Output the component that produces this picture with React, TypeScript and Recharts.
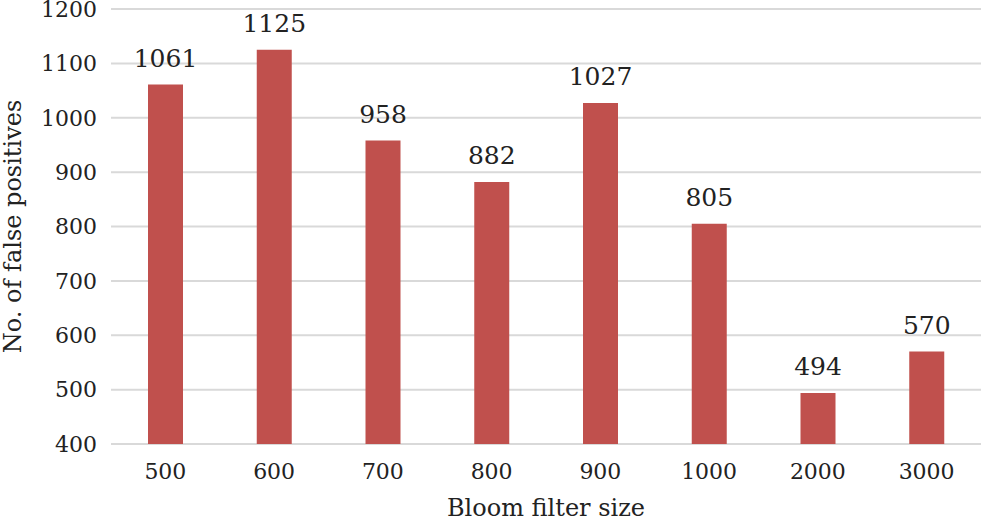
import { BarChart, Bar, XAxis, YAxis, CartesianGrid, LabelList } from "recharts";

const sizes = ["500", "600", "700", "800", "900", "1000", "2000", "3000"];
const falsePositives = [1061, 1125, 958, 882, 1027, 805, 494, 570];
const yTicks = [400, 500, 600, 700, 800, 900, 1000, 1100, 1200];

const data = sizes.map((size, i) => ({ size, value: falsePositives[i] }));

const FONT = "'DejaVu Serif', serif";
const INK = "#222";

const App = () => {
  return (
    <div style={{ width: 981, height: 523 }}>
      <style>{`body { margin: 0; }`}</style>
      <BarChart
        width={981}
        height={523}
        data={data}
        margin={{ top: 9, right: 0, bottom: 0, left: 0 }}
      >
        <CartesianGrid vertical={false} stroke="#d9d9d9" strokeWidth={2} />
        <XAxis
          dataKey="size"
          height={79}
          axisLine={false}
          tickLine={false}
          tickSize={0}
          tickMargin={19}
          tick={{ fill: INK, fontFamily: FONT, fontSize: 22 }}
          label={{
            content: ({ viewBox }: any) => (
              <text
                x={viewBox.x + viewBox.width / 2}
                y={516}
                textAnchor="middle"
                fill={INK}
                fontFamily={FONT}
                fontSize={24}
              >
                Bloom filter size
              </text>
            ),
          }}
        />
        <YAxis
          width={111}
          domain={[400, 1200]}
          ticks={yTicks}
          interval={0}
          axisLine={false}
          tickLine={false}
          tickSize={0}
          tickMargin={14}
          tick={{ fill: INK, fontFamily: FONT, fontSize: 22 }}
          label={{
            content: ({ viewBox }: any) => {
              const cx = 13;
              const cy = viewBox.y + viewBox.height / 2;
              return (
                <text
                  x={cx}
                  y={cy}
                  transform={`rotate(-90 ${cx} ${cy})`}
                  textAnchor="middle"
                  dominantBaseline="central"
                  fill={INK}
                  fontFamily={FONT}
                  fontSize={24}
                >
                  No. of false positives
                </text>
              );
            },
          }}
        />
        <Bar dataKey="value" fill="#C0504D" barSize={35} isAnimationActive={false}>
          <LabelList
            dataKey="value"
            position="top"
            offset={18}
            fill={INK}
            fontFamily={FONT}
            fontSize={25}
          />
        </Bar>
      </BarChart>
    </div>
  );
};

export default App;
